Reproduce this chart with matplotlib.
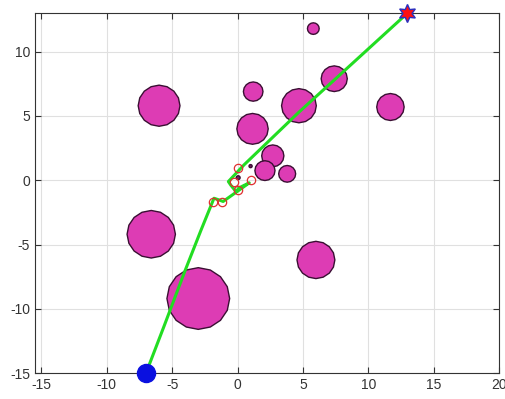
import numpy as np
import matplotlib
matplotlib.use("Agg")
import matplotlib.pyplot as plt
from matplotlib.patches import RegularPolygon

plt.rcParams['font.family'] = ['Liberation Sans', 'DejaVu Sans']
plt.rcParams['axes.unicode_minus'] = False

# obstacles: centre x, centre y, radius
obs_x = [-6.0, -6.6, -3.0, 6.0, 5.8, 1.2, 1.15, 4.7, 7.4, 11.7, 2.7, 2.1, 3.8, 1.0, 0.05]
obs_y = [5.8, -4.2, -9.2, -6.2, 11.8, 6.9, 4.0, 5.8, 7.9, 5.7, 1.9, 0.75, 0.5, 1.1, 0.2]
obs_r = [1.6, 1.85, 2.4, 1.45, 0.45, 0.75, 1.2, 1.33, 1.0, 1.05, 0.85, 0.77, 0.65, 0.12, 0.15]

# planned path
path_x = [-7.0, -5.6, -4.0, -2.8, -1.8, -1.5, -1.1, -0.2, 0.9, 0.1, -0.1, -0.5, -0.7, 0.5, 4.7, 7.4, 13.0]
path_y = [-15.0, -11.3, -7.0, -3.9, -1.4, -1.5, -1.65, -1.0, -0.2, -0.6, -0.9, -0.4, -0.1, 1.2, 5.3, 7.8, 13.0]

# red open circles (visited nodes)
node_x = [0.05, -0.26, 1.02, 0.0, -1.89, -1.18]
node_y = [0.99, -0.13, 0.0, -0.72, -1.71, -1.71]

start = (-7.0, -15.0)
goal = (13.0, 13.0)

fig = plt.figure(figsize=(5.06, 3.99), dpi=100)
ax = fig.add_axes([0.069, 0.065, 0.917, 0.902])

for x, y, r in zip(obs_x, obs_y, obs_r):
    fill = '#DD3CB4' if r > 0.3 else '#7a2060'
    ax.add_patch(RegularPolygon((x, y), numVertices=16, radius=r,
                                facecolor=fill, edgecolor='#3a0f33', linewidth=1.0, zorder=2))

ax.plot(path_x, path_y, color='#22dd22', linewidth=2.2, zorder=3)
ax.plot(node_x, node_y, 'o', markerfacecolor='none', markeredgecolor='#e03030',
        markersize=6, markeredgewidth=0.9, zorder=4)
ax.plot(*start, 'o', color='#0a10e0', markersize=13, zorder=5, clip_on=False)
ax.plot(*goal, marker=(6, 1, 0), markerfacecolor='#ff1010', markeredgecolor='#2a30c0',
        markersize=13, markeredgewidth=1.0, zorder=5, clip_on=False)

ax.set_xlim(-15.5, 20)
ax.set_ylim(-15, 13)
ax.set_xticks(np.arange(-15, 21, 5))
ax.set_yticks(np.arange(-15, 11, 5))
ax.grid(True, color='#e0e0e0', linewidth=0.8)
ax.set_axisbelow(True)
ax.tick_params(direction='in', top=True, right=True, labelsize=10, colors='#333333', length=4)
for s in ax.spines.values():
    s.set_color('#333333')
    s.set_linewidth(0.8)

fig.savefig('out.png', dpi=100)
